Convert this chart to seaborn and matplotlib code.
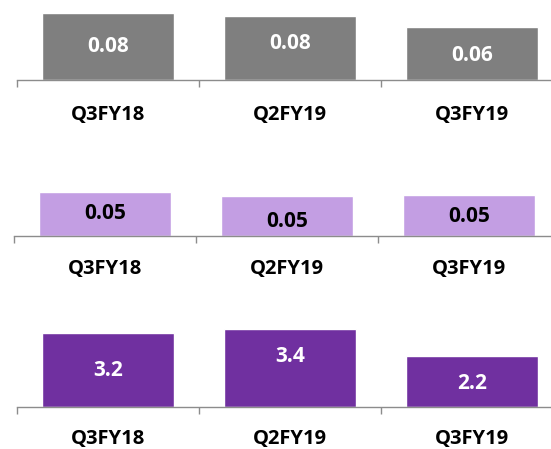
import matplotlib
matplotlib.use("Agg")
import matplotlib.pyplot as plt
import seaborn as sns
import pandas as pd

sns.set_style("white")
plt.rcParams["font.family"] = ["Open Sans", "DejaVu Sans"]

quarters = ["Q3FY18", "Q2FY19", "Q3FY19"]

# Three small metrics, one panel each
metric_a = [0.080, 0.077, 0.063]
metric_b = [0.053, 0.048, 0.049]
metric_c = [3.2, 3.4, 2.2]

label_fmt = ["{:.2f}", "{:.2f}", "{:.1f}"]
bar_colors = ["#7F7F7F", "#C39EE3", "#7030A0"]
text_colors = ["white", "black", "white"]

# Where each value label sits, as a share of its bar's height
label_pos = [
    [0.50, 0.575, 0.47],
    [0.51, 0.35, 0.47],
    [0.49, 0.64, 0.47],
]

W, H = 551, 449
fig = plt.figure(figsize=(W / 100, H / 100), dpi=100)

# panel geometry in pixels: left, baseline (from top), height, y-limit,
# plus the gap (points) between axis line and category labels
panels = [
    (17, 80.0, 80, 0.080 * 80 / 66.7, 18.3),
    (14, 235.7, 70, 0.053 * 70 / 44.0, 16.9),
    (17, 406.7, 90, 3.2 * 90 / 73.3, 16.0),
]

series = [metric_a, metric_b, metric_c]

for i, (left, base, hgt, ytop, pad) in enumerate(panels):
    ax = fig.add_axes([left / W, 1 - base / H, 546 / W, hgt / H])
    df = pd.DataFrame({"quarter": quarters, "value": series[i]})
    sns.barplot(data=df, x="quarter", y="value", color=bar_colors[i],
                saturation=1, width=0.725, ax=ax, errorbar=None)
    ax.set_xlim(-0.5, 2.5)
    ax.set_ylim(0, ytop)
    ax.set_xlabel("")
    ax.set_ylabel("")
    ax.set_yticks([])
    for s in ["top", "right", "left"]:
        ax.spines[s].set_visible(False)
    ax.spines["bottom"].set_color("#8C8C8C")
    ax.spines["bottom"].set_linewidth(1.0)
    ax.set_xticks([-0.5, 0.5, 1.5, 2.5], minor=True)
    ax.tick_params(axis="x", which="minor", length=5, width=1.0,
                   color="#8C8C8C", direction="out", bottom=True)
    ax.tick_params(axis="x", which="major", length=0, pad=pad)
    ax.set_xticks(range(len(quarters)))
    ax.set_xticklabels(quarters, fontsize=14.5, fontweight="bold",
                       color="black")
    for j, v in enumerate(series[i]):
        ax.text(j, v * label_pos[i][j], label_fmt[i].format(v),
                ha="center", va="center", fontsize=15,
                fontweight="bold", color=text_colors[i])

fig.savefig("out.png", dpi=100)
